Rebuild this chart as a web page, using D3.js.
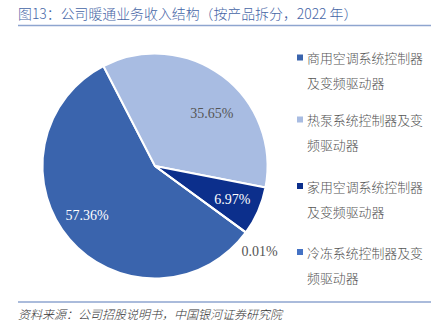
<!DOCTYPE html>
<html><head><meta charset="utf-8">
<script src="https://cdn.jsdelivr.net/npm/d3@7"></script>
<style>
body{margin:0;background:#fff;}
svg{display:block;}
</style></head>
<body>
<svg id="c" width="441" height="332"></svg>
<script>
const categories = ["商用空调系统控制器及变频驱动器","热泵系统控制器及变频驱动器","家用空调系统控制器及变频驱动器","冷冻系统控制器及变频驱动器"];
const legendLines = [["商用空调系统控制器","及变频驱动器"],["热泵系统控制器及变","频驱动器"],["家用空调系统控制器","及变频驱动器"],["冷冻系统控制器及变","频驱动器"]];
const values = [57.36, 35.65, 6.97, 0.01];
const labels = ["57.36%","35.65%","6.97%","0.01%"];
const colors = ["#3a64ad","#a8bce2","#0c2f8c","#4472c4"];
const labelColors = ["#ffffff","#555555","#ffffff","#555555"];

const svg = d3.select("#c");
const cjk = "'Noto Sans CJK SC', 'Noto Sans', sans-serif";

// title
svg.append("text").attr("x",18).attr("y",19)
  .attr("font-family",cjk).attr("font-size",13.9).attr("font-weight",300).attr("fill","#4565a6")
  .text("图13：公司暖通业务收入结构（按产品拆分，2022 年）");
svg.append("line").attr("x1",18).attr("x2",431).attr("y1",25.5).attr("y2",25.5)
  .attr("stroke","#8ea5cf").attr("stroke-width",1.5);

// pie
const cx = 155, cy = 166, r = 112.5;
const start = 126.2*Math.PI/180;
const pie = d3.pie().sort(null).value(d=>d).startAngle(start).endAngle(start+2*Math.PI);
const arcs = pie(values);
const arc = d3.arc().innerRadius(0).outerRadius(r);
const g = svg.append("g").attr("transform",`translate(${cx},${cy})`);
g.selectAll("path").data(arcs).join("path")
  .attr("d",arc).attr("fill",(d,i)=>colors[i])
  .attr("stroke","#fff").attr("stroke-width",2).attr("stroke-linejoin","round");

// labels: radius fraction and angular shift (deg) relative to slice centroid
const labRadius = [0.745, 0.69, 0.75, 1.2];
const labShift = [4.7, 10.2, 0, 3];
const labelPos = arcs.map((d,i)=>{
  const a = (d.startAngle+d.endAngle)/2 + labShift[i]*Math.PI/180;
  const rr = r*labRadius[i];
  return [rr*Math.sin(a), -rr*Math.cos(a)];
});
g.selectAll("text.lbl").data(arcs).join("text").attr("class","lbl")
  .attr("x",(d,i)=>labelPos[i][0]).attr("y",(d,i)=>labelPos[i][1])
  .attr("text-anchor","middle").attr("dominant-baseline","central")
  .attr("font-family","'Liberation Serif','DejaVu Serif',serif").attr("font-size",14)
  .attr("fill",(d,i)=>labelColors[i]).text((d,i)=>labels[i]);

// legend
const legTop = [57.5, 119.5, 186, 252];
const lg = svg.append("g");
categories.forEach((c,i)=>{
  lg.append("rect").attr("x",297).attr("y",legTop[i]-3).attr("width",6).attr("height",6).attr("fill",colors[i]);
  legendLines[i].forEach((t,j)=>{
    lg.append("text").attr("x",307).attr("y",legTop[i]+j*25).attr("dominant-baseline","central")
      .attr("font-family",cjk).attr("font-size",12.9).attr("font-weight",300).attr("fill","#555").text(t);
  });
});

// footer
svg.append("line").attr("x1",18).attr("x2",431).attr("y1",302).attr("y2",302)
  .attr("stroke","#8ea5cf").attr("stroke-width",1.5);
svg.append("text").attr("x",18).attr("y",319)
  .attr("font-family",cjk).attr("font-size",12).attr("font-style","italic").attr("font-weight",300).attr("fill","#333")
  .text("资料来源：公司招股说明书，中国银河证券研究院");
</script>
</body></html>
